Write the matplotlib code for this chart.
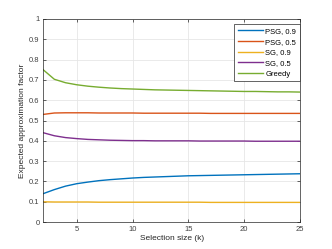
import numpy as np
import matplotlib
matplotlib.use("Agg")
import matplotlib.pyplot as plt

k = list(range(2, 26))
psg_09 = [0.140, 0.160, 0.177, 0.189, 0.197, 0.204, 0.209, 0.213, 0.217, 0.220, 0.222, 0.224, 0.226, 0.228,
          0.229, 0.230, 0.231, 0.232, 0.233, 0.234, 0.235, 0.236, 0.237, 0.238]
psg_05 = [0.530, 0.537, 0.538, 0.538, 0.538, 0.537, 0.537, 0.537, 0.537, 0.536, 0.536, 0.536, 0.536, 0.536,
          0.536, 0.535, 0.535, 0.535, 0.535, 0.535, 0.535, 0.535, 0.535, 0.535]
sg_09 = [0.100, 0.099, 0.099, 0.099, 0.099, 0.098, 0.098, 0.098, 0.098, 0.098, 0.098, 0.098, 0.098, 0.098,
         0.098, 0.097, 0.097, 0.097, 0.097, 0.097, 0.097, 0.097, 0.097, 0.097]
sg_05 = [0.440, 0.425, 0.416, 0.411, 0.407, 0.405, 0.403, 0.402, 0.401, 0.401, 0.400, 0.400, 0.400, 0.400,
         0.399, 0.399, 0.399, 0.399, 0.399, 0.398, 0.398, 0.398, 0.398, 0.398]
greedy = [0.750, 0.703, 0.686, 0.676, 0.669, 0.664, 0.660, 0.657, 0.655, 0.653, 0.651, 0.650, 0.649, 0.648,
          0.647, 0.646, 0.645, 0.644, 0.643, 0.643, 0.642, 0.641, 0.641, 0.640]
labels = ["PSG, 0.9", "PSG, 0.5", "SG, 0.9", "SG, 0.5", "Greedy"]
colors = ["#0072BD", "#D95319", "#EDB120", "#7E2F8E", "#77AC30"]

plt.rcParams["font.family"] = ["Liberation Sans", "DejaVu Sans"]
fig = plt.figure(figsize=(3.32, 2.49), dpi=100)
ax = fig.add_axes([0.13, 0.108, 0.774, 0.816])
for ys, lab, c in zip([psg_09, psg_05, sg_09, sg_05, greedy], labels, colors):
    ax.plot(k, ys, color=c, lw=1.0, label=lab)

ax.set_xlim(2, 25)
ax.set_ylim(0, 1)
ax.set_xticks([5, 10, 15, 20, 25])
ax.set_yticks(np.arange(0, 1.01, 0.1))
ax.set_yticklabels(["0", "0.1", "0.2", "0.3", "0.4", "0.5", "0.6", "0.7", "0.8", "0.9", "1"])
ax.grid(True, color="#e6e6e6", lw=0.6)
ax.set_axisbelow(True)
ax.tick_params(direction="in", length=2.5, width=0.5, labelsize=5.5, colors="#262626",
               labelcolor="#404040", top=True, right=True, pad=2.5)
for s in ax.spines.values():
    s.set_linewidth(0.5)
    s.set_color("#262626")
ax.set_xlabel("Selection size (k)", fontsize=6, color="#262626", labelpad=1.5)
ax.set_ylabel("Expected approximation factor", fontsize=6, color="#262626", labelpad=2)
leg = ax.legend(loc="upper right", bbox_to_anchor=(0.998, 0.975), fontsize=5.5,
                handlelength=3.3, handletextpad=0.3, labelspacing=0.45, borderpad=0.45,
                fancybox=False, framealpha=1, borderaxespad=0)
leg.get_frame().set_edgecolor("#262626")
leg.get_frame().set_linewidth(0.5)
fig.savefig("out.png", dpi=100)
